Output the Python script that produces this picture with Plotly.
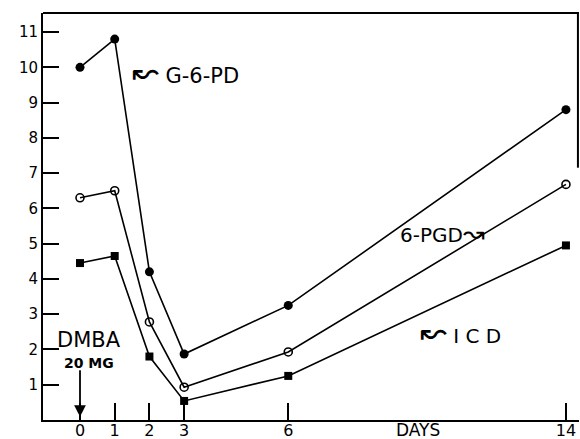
import plotly.graph_objects as go

days = [0, 1, 2, 3, 6, 14]
g6pd = [10.0, 10.8, 4.2, 1.87, 3.25, 8.8]
pgd6 = [6.3, 6.5, 2.78, 0.93, 1.93, 6.68]
icd = [4.45, 4.65, 1.8, 0.54, 1.25, 4.95]

x_ticks = [0, 1, 2, 3, 6, 14]
y_ticks = list(range(1, 12))

FONT = "DejaVu Sans"
fig = go.Figure()

line = dict(color="black", width=1.6)
fig.add_trace(go.Scatter(x=days, y=g6pd, mode="lines+markers", line=line,
                         marker=dict(symbol="circle", size=9, color="black"), cliponaxis=False))
fig.add_trace(go.Scatter(x=days, y=pgd6, mode="lines+markers", line=line,
                         marker=dict(symbol="circle-open", size=8, color="black", line=dict(width=1.6)), cliponaxis=False))
fig.add_trace(go.Scatter(x=days, y=icd, mode="lines+markers", line=line,
                         marker=dict(symbol="square", size=8, color="black"), cliponaxis=False))

fig.update_layout(
    width=580, height=439,
    margin=dict(l=43, r=1, t=13, b=19, autoexpand=False),
    plot_bgcolor="white", paper_bgcolor="white",
    showlegend=False,
    font=dict(family=FONT, color="black"),
    xaxis=dict(range=[-1.066, 14.376], tickvals=x_ticks, ticktext=[str(v) for v in x_ticks],
               ticks="inside", ticklen=17, tickwidth=2, tickcolor="black",
               showline=True, linecolor="black", linewidth=2, showgrid=False, zeroline=False,
               tickfont=dict(size=16, family=FONT), automargin=False, ticklabelstandoff=-5),
    yaxis=dict(range=[0, 11.54], tickvals=y_ticks, ticktext=[str(v) for v in y_ticks],
               ticks="inside", ticklen=16, tickwidth=2, tickcolor="black",
               showline=True, linecolor="black", linewidth=2, showgrid=False, zeroline=False,
               tickfont=dict(size=15, family=FONT), automargin=False),
)
# top frame line and partial right frame line
fig.add_shape(type="line", xref="paper", yref="paper", x0=0, x1=1, y0=1, y1=1,
              line=dict(color="black", width=2))
fig.add_shape(type="line", xref="paper", yref="paper", x0=0.998, x1=0.998, y0=0.62, y1=1,
              line=dict(color="black", width=2))

ann = [
    dict(text="UNITS / GRAM / MIN.", x=-1.96, y=3.88, textangle=-90, font=dict(size=16)),
    dict(text="<span style='font-size:32px'>↜</span> G-6-PD", x=1.44, y=9.87, xanchor="left", font=dict(size=21)),
    dict(text="6-PGD<span style='font-size:26px'>↝</span>", x=9.16, y=5.3, xanchor="left", font=dict(size=20)),
    dict(text="<span style='font-size:32px'>↜</span> I C D", x=9.74, y=2.5, xanchor="left", font=dict(size=20)),
    dict(text="DMBA", x=0.26, y=2.28, font=dict(size=21)),
    dict(text="<b>20 MG</b>", x=0.25, y=1.62, font=dict(size=14)),
]
for a in ann:
    fig.add_annotation(xref="x", yref="y", showarrow=False, **a)
fig.add_annotation(xref="x", yref="paper", x=9.74, y=-0.025, yanchor="middle", text="DAYS",
                   showarrow=False, borderpad=0, font=dict(size=17))

fig.add_annotation(xref="x", yref="y", x=0, y=0.09, ax=0, ay=-48, showarrow=True,
                   arrowhead=2, arrowsize=1.3, arrowwidth=1.8, arrowcolor="black", text="")

fig.write_html("out.html", config={"displayModeBar": False},
               post_script="document.body.style.margin='0px';document.body.style.overflow='hidden';")
